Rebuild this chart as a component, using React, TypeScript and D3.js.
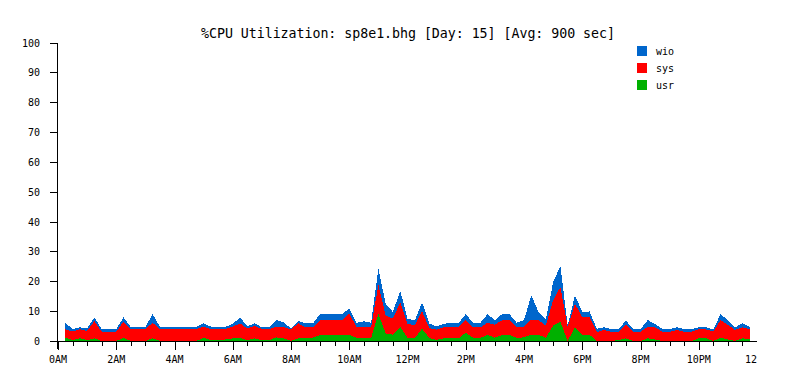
import React from "react";
import * as d3 from "d3";

// 15-minute samples from 0:15 to 23:45
const INTERVAL_MIN = 15;
const usr = [
  1.1, 0.3, 0.9, 0.3, 0.9, 0, 0, 0, 1.1, 0,
  0, 0, 0.9, 0, 0, 0, 0, 0, 0, 1.1,
  0.3, 0.3, 0.5, 0.9, 1.1, 0.3, 0.9, 0.3, 0.3, 1.2,
  0.9, 0, 0.9, 1.1, 1.1, 2.0, 2.0, 2.0, 2.0, 2.0,
  1.1, 1.0, 1.0, 9.1, 2.5, 2.1, 4.7, 1.0, 1.0, 4.1,
  1.0, 0.4, 0.9, 0.9, 0.9, 2.8, 1.1, 1.1, 2.0, 1.1,
  2.0, 2.0, 1.1, 1.2, 2.1, 2.1, 1.0, 5.2, 6.4, 0,
  4.7, 2.1, 2.1, 0, 0, 0, 0.3, 0.9, 0, 0,
  0.9, 0.5, 0, 0, 0, 0, 0, 0.9, 0.9, 0,
  1.1, 0.5, 0, 0.9, 0.5,
];
const sys = [
  2.8, 2.9, 3.0, 3.1, 5.8, 3.1, 3.1, 3.1, 5.4, 4.0,
  4.0, 4.0, 5.2, 4.0, 4.0, 4.0, 4.0, 4.0, 4.0, 3.7,
  3.7, 3.7, 3.5, 3.9, 4.8, 3.9, 4.1, 3.7, 3.7, 3.6,
  3.7, 3.9, 5.0, 3.5, 3.5, 5.0, 5.0, 5.0, 5.0, 7.3,
  3.5, 3.7, 3.7, 9.7, 6.1, 5.4, 8.3, 4.8, 4.2, 5.8,
  3.3, 3.4, 3.7, 3.7, 3.7, 4.2, 3.5, 3.5, 4.1, 4.3,
  5.0, 5.0, 3.5, 3.6, 5.1, 4.8, 4.2, 8.4, 11.7, 4.7,
  7.8, 5.9, 5.9, 3.0, 3.7, 3.1, 2.8, 4.5, 3.1, 3.1,
  3.9, 4.1, 3.1, 3.1, 3.7, 3.1, 3.1, 3.0, 3.0, 3.1,
  5.9, 4.9, 3.7, 3.7, 3.5,
];
const wio = [
  2.2, 0.8, 0.7, 0.8, 1.2, 0.9, 0.9, 0.9, 1.4, 0.7,
  0.7, 0.7, 2.9, 0.7, 0.7, 0.7, 0.7, 0.7, 0.7, 1.1,
  0.8, 0.8, 0.8, 0.9, 2.0, 0.8, 0.9, 0.6, 0.6, 2.2,
  1.6, 0.3, 0.9, 1.3, 1.3, 2.0, 2.0, 2.0, 2.0, 1.6,
  1.5, 1.9, 1.4, 5.4, 3.9, 2.2, 3.9, 1.7, 1.7, 3.1,
  1.5, 1.1, 1.2, 1.4, 1.4, 2.0, 1.5, 1.5, 2.9, 1.6,
  2.0, 2.0, 1.5, 2.2, 8.1, 2.8, 2.0, 6.1, 7.0, 0.5,
  2.8, 1.7, 1.9, 1.1, 0.9, 0.9, 0.9, 1.4, 0.9, 0.9,
  2.2, 1.1, 0.9, 0.9, 0.9, 0.9, 0.9, 0.7, 0.7, 0.8,
  2.0, 1.6, 0.9, 1.3, 0.8,
];

const seriesKeys = ["usr", "sys", "wio"];
const seriesColors: Record<string, string> = { usr: "#00b000", sys: "#ff0000", wio: "#0066cc" };
const legendOrder = ["wio", "sys", "usr"];
const xTickLabels = ["0AM", "2AM", "4AM", "6AM", "8AM", "10AM", "12PM", "2PM", "4PM", "6PM", "8PM", "10PM", "12"];
const yTickValues = [0, 10, 20, 30, 40, 50, 60, 70, 80, 90, 100];
const TITLE = "%CPU Utilization: sp8e1.bhg [Day: 15] [Avg: 900 sec]";

const W = 793;
const H = 382;
const FONT = "'DejaVu Sans Mono', 'Liberation Mono', monospace";

export default function App() {
  const x = d3.scaleLinear().domain([0, 24]).range([58, 757]);
  const y = d3.scaleLinear().domain([0, 100]).range([341, 42.5]);

  const rows = usr.map((u, i) => ({
    t: ((i + 1) * INTERVAL_MIN) / 60,
    usr: u,
    sys: sys[i],
    wio: wio[i],
  }));
  const stacked = d3.stack<any>().keys(seriesKeys)(rows);
  const area = d3
    .area<any>()
    .x((d) => x(d.data.t))
    .y0((d) => y(d[0]))
    .y1((d) => y(d[1]))
    .curve(d3.curveLinear);

  const halfHours = d3.range(0, 48).map((k) => k / 2);
  const axisX = 57.5;
  const axisY = 341.5;

  return (
    <svg
      width={W}
      height={H}
      style={{ position: "absolute", left: 0, top: 0, background: "#fff" }}
      fontFamily={FONT}
    >
      <rect x={0} y={0} width={W} height={H} fill="#fff" />
      <text x={408} y={38} fontSize={13.3} textAnchor="middle" fill="#000" textLength={414}>
        {TITLE}
      </text>

      {stacked.map((s) => (
        <path key={s.key} d={area(s) || ""} fill={seriesColors[s.key]} shapeRendering="crispEdges" />
      ))}

      {/* y axis */}
      <line x1={axisX} x2={axisX} y1={y(100)} y2={349} stroke="#000" shapeRendering="crispEdges" />
      {yTickValues.map((v) => (
        <g key={v}>
          <line x1={50} x2={axisX} y1={Math.round(y(v)) + 0.5} y2={Math.round(y(v)) + 0.5} stroke="#000" shapeRendering="crispEdges" />
          <text x={40} y={Math.round(y(v)) + 4} fontSize={10} textAnchor="end" fill="#000">
            {v}
          </text>
        </g>
      ))}

      {/* x axis */}
      <line x1={50} x2={x(24)} y1={axisY} y2={axisY} stroke="#000" shapeRendering="crispEdges" />
      {halfHours.map((h) => {
        const long = h % 2 === 0;
        const px = Math.round(x(h)) + 0.5;
        return (
          <line key={h} x1={px} x2={px} y1={axisY} y2={axisY + (long ? 8 : 4)} stroke="#000" shapeRendering="crispEdges" />
        );
      })}
      {xTickLabels.map((lab, i) => {
        const last = i === xTickLabels.length - 1;
        return (
          <text
            key={lab}
            x={last ? x(24) : x(i * 2)}
            y={363}
            fontSize={10}
            textAnchor={last ? "end" : "middle"}
            fill="#000"
          >
            {lab}
          </text>
        );
      })}

      {/* legend */}
      {legendOrder.map((k, i) => (
        <g key={k}>
          <rect x={637} y={46 + i * 17} width={10} height={10} fill={seriesColors[k]} />
          <text x={656} y={55 + i * 17} fontSize={10} fill="#000">
            {k}
          </text>
        </g>
      ))}
    </svg>
  );
}
